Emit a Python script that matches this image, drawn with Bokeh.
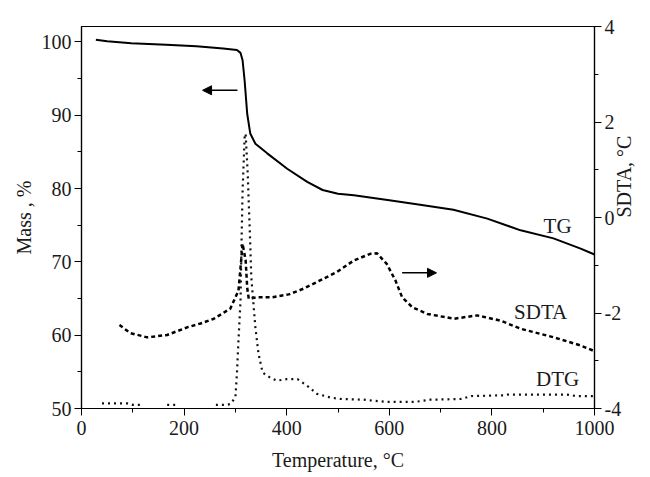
import math
from bokeh.plotting import figure
from bokeh.models import Range1d, LinearAxis, FixedTicker, Arrow, NormalHead
from bokeh.core.properties import value
from bokeh.embed import file_html
from bokeh.resources import INLINE
import numpy as np

# TG (mass, %)
tg_t = [28, 50, 97, 165, 224, 276, 303, 310, 314, 318, 323, 329, 339, 362, 401, 440, 470, 500, 531, 600, 660, 725, 791, 856, 920, 973, 1000]
tg_m = [100.3, 100.1, 99.8, 99.6, 99.4, 99.1, 98.9, 98.5, 97.5, 94.7, 90.2, 87.5, 86.1, 84.8, 82.7, 80.9, 79.8, 79.3, 79.1, 78.4, 77.8, 77.1, 75.9, 74.3, 73.2, 71.8, 71.0]

# SDTA (°C, right axis)
sdta_t = [74, 95, 128, 167, 206, 232, 258, 290, 306, 310, 314, 320, 323, 326, 342, 372, 404, 433, 459, 498, 531, 563, 576, 595, 612, 625, 645, 674, 726, 771, 817, 856, 921, 973, 1000]
sdta_v = [-2.25, -2.42, -2.51, -2.46, -2.30, -2.22, -2.12, -1.91, -1.53, -1.05, -0.55, -0.90, -1.47, -1.70, -1.67, -1.67, -1.61, -1.49, -1.35, -1.14, -0.90, -0.76, -0.75, -0.97, -1.32, -1.67, -1.88, -2.02, -2.12, -2.05, -2.16, -2.33, -2.51, -2.68, -2.80]

# DTG (arbitrary, drawn on mass scale), NaN = gap in record
dtg_t = [40, 60, 89, 100, 120, 140, 167, 190, 220, 262, 283, 290, 300, 303, 306, 310, 312, 314, 318, 320, 324, 328, 331, 339, 345, 353, 368, 381, 400, 421, 440, 459, 485, 505, 550, 595, 650, 680, 740, 760, 825, 830, 945, 965, 1000]
dtg_m = [50.7, 50.7, 50.7, 50.5, 50.5, np.nan, 50.5, 50.5, np.nan, 50.5, 50.5, 50.6, 51.5, 54.8, 59.3, 64.7, 72.9, 79.7, 87.0, 87.5, 82.0, 74.3, 67.9, 61.0, 57.5, 54.9, 54.2, 53.8, 54.0, 54.0, 53.1, 52.0, 51.5, 51.3, 51.2, 50.9, 50.9, 51.2, 51.3, 51.7, 51.8, 51.9, 51.9, 51.7, 51.7]

x_ticks = [0, 200, 400, 600, 800, 1000]
x_minor = [100, 300, 500, 700, 900]
left_ticks = [50, 60, 70, 80, 90, 100]
left_minor = [55, 65, 75, 85, 95]
right_ticks = [-4, -2, 0, 2, 4]
right_minor = [-3, -1, 1, 3]
right_labels = ["-4", "-2", "0", "2", "4"]

FONT = "Liberation Serif"

p = figure(width=650, height=477, output_backend="svg", toolbar_location=None,
           x_range=Range1d(0, 1000), y_range=Range1d(50, 102.1),
           min_border_left=81, min_border_right=56, min_border_top=26, min_border_bottom=69,
           x_axis_label="Temperature, °C", y_axis_label="Mass , %")
p.extra_y_ranges = {"sdta": Range1d(-4, 4)}
p.xgrid.visible = False
p.ygrid.visible = False
p.outline_line_color = "black"
p.outline_line_width = 1.2

right = LinearAxis(y_range_name="sdta", axis_label="SDTA, °C")
p.add_layout(right, "right")

p.xaxis.ticker = FixedTicker(ticks=x_ticks, minor_ticks=x_minor)
p.yaxis[0].ticker = FixedTicker(ticks=left_ticks, minor_ticks=left_minor)
right.ticker = FixedTicker(ticks=right_ticks, minor_ticks=right_minor)
right.major_label_overrides = {t: s for t, s in zip(right_ticks, right_labels)}

for ax in [p.xaxis[0], p.yaxis[0], right]:
    ax.major_label_text_font = FONT
    ax.major_label_text_font_size = "20px"
    ax.major_label_text_color = "#1a1a1a"
    ax.axis_label_text_font = FONT
    ax.axis_label_text_font_size = "20px"
    ax.axis_label_text_font_style = "normal"
    ax.axis_label_text_color = "#1a1a1a"
    ax.axis_line_color = "black"
    ax.axis_line_width = 1.2
    ax.major_tick_line_color = "black"
    ax.minor_tick_line_color = "black"
    ax.major_tick_in = 0
    ax.major_tick_out = 7
    ax.minor_tick_in = 0
    ax.minor_tick_out = 4
    ax.major_label_standoff = 3
    ax.axis_label_standoff = 4

p.xaxis[0].major_label_standoff = 5
p.xaxis[0].axis_label_standoff = 11
right.major_label_standoff = 3
right.axis_label_standoff = 0
right.axis_label_orientation = math.pi / 2

p.line(tg_t, tg_m, line_color="black", line_width=2)
p.line(sdta_t, sdta_v, y_range_name="sdta", line_color="black", line_width=2.5, line_dash="4 3")
p.line(dtg_t, dtg_m, line_color="#111111", line_width=2.2, line_dash="2 4")

# arrows (annotation positions in data units)
arrow_left = dict(x0=304, x1=236, y=93.4)
arrow_right = dict(x0=625, x1=692, y=68.5)
for a in [arrow_left, arrow_right]:
    p.add_layout(Arrow(end=NormalHead(size=9, fill_color="black", line_color="black"),
                       x_start=a["x0"], y_start=a["y"], x_end=a["x1"], y_end=a["y"],
                       line_color="black", line_width=1.5))

labels = ["TG", "SDTA", "DTG"]
label_x = [928, 895, 928]
label_y = [74.9, 63.1, 54.0]
p.text(label_x, label_y, text=labels, text_font=value(FONT), text_font_size="21px",
       text_align="center", text_baseline="middle", text_color="#1a1a1a")

open("out.html", "w").write(file_html(p, INLINE))
